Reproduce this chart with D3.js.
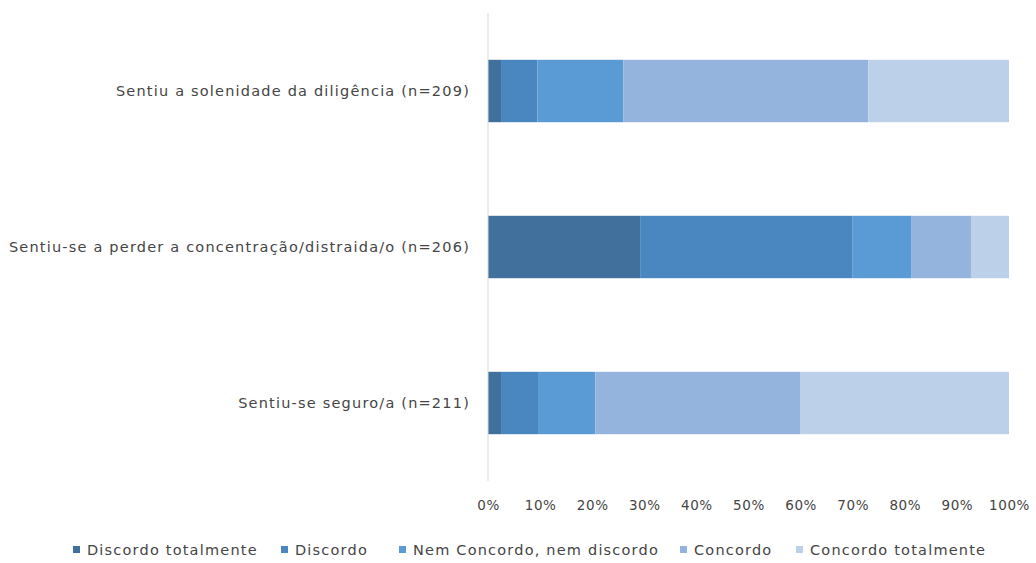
<!DOCTYPE html>
<html><head><meta charset="utf-8">
<script src="https://cdn.jsdelivr.net/npm/d3@7"></script>
<style>body{margin:0;background:#fff}text{font-family:"DejaVu Sans",sans-serif;fill:#454545}</style>
</head><body><svg id="c" width="1036" height="563"></svg>
<script>
const categories = ["Sentiu a solenidade da diligência (n=209)","Sentiu-se a perder a concentração/distraida/o (n=206)","Sentiu-se seguro/a (n=211)"];
const seriesNames = ["Discordo totalmente","Discordo","Nem Concordo, nem discordo","Concordo","Concordo totalmente"];
const discordoTotalmente = [2.5, 29.2, 2.5];
const discordo = [7.0, 40.7, 7.1];
const nemNem = [16.5, 11.3, 11.0];
const concordo = [47.0, 11.5, 39.4];
const concordoTotalmente = [27.0, 7.3, 40.0];
const tickValues = [0,10,20,30,40,50,60,70,80,90,100];
const colors = ["#41709c","#4a86bf","#5b9bd5","#95b4dd","#bdd0ea"];

const rows = categories.map((c,i)=>({cat:c, vals:[discordoTotalmente[i],discordo[i],nemNem[i],concordo[i],concordoTotalmente[i]]}));
const svg = d3.select("#c");
const x = d3.scaleLinear().domain([0,100]).range([488,1009]);
const y = d3.scaleBand().domain(categories).range([13,481]).paddingInner(0.6).paddingOuter(0.3);

const stack = d3.stack().keys(d3.range(5)).value((d,k)=>d.vals[k]);
const series = stack(rows);
svg.append("g").selectAll("g").data(series).join("g").attr("fill",(d,i)=>colors[i])
  .selectAll("rect").data(d=>d).join("rect")
  .attr("x",d=>x(d[0])).attr("width",d=>x(d[1])-x(d[0]))
  .attr("y",d=>y(d.data.cat)).attr("height",y.bandwidth());

// vertical axis line
svg.append("line").attr("x1",488).attr("x2",488).attr("y1",13).attr("y2",481).attr("stroke","#d9d9d9").attr("stroke-width",1);

// category labels
svg.append("g").selectAll("text").data(categories).join("text")
  .attr("x",470).attr("y",d=>y(d)+y.bandwidth()/2).attr("dy","0.35em")
  .attr("text-anchor","end").style("font-size","14.5px").style("letter-spacing","1.2px").text(d=>d);

// x axis tick labels
const ax = svg.append("g").attr("transform","translate(0,497)").call(d3.axisBottom(x).tickValues(tickValues).tickFormat(d=>d+"%").tickSize(0));
ax.select(".domain").remove();
ax.selectAll("text").style("font-size","13.5px").style("letter-spacing","0.6px").style("font-family","'DejaVu Sans',sans-serif").attr("fill","#454545");

// legend
const legX = [73, 281, 399, 680, 796];
const leg = svg.append("g").selectAll("g").data(seriesNames).join("g").attr("transform",(d,i)=>`translate(${legX[i]},550)`);
leg.append("rect").attr("x",0).attr("y",-4).attr("width",7).attr("height",7).attr("fill",(d,i)=>colors[i]);
leg.append("text").attr("x",14).attr("y",0).attr("dy","0.35em").style("font-size","14.5px").style("letter-spacing","1.2px").text(d=>d);
</script></body></html>
